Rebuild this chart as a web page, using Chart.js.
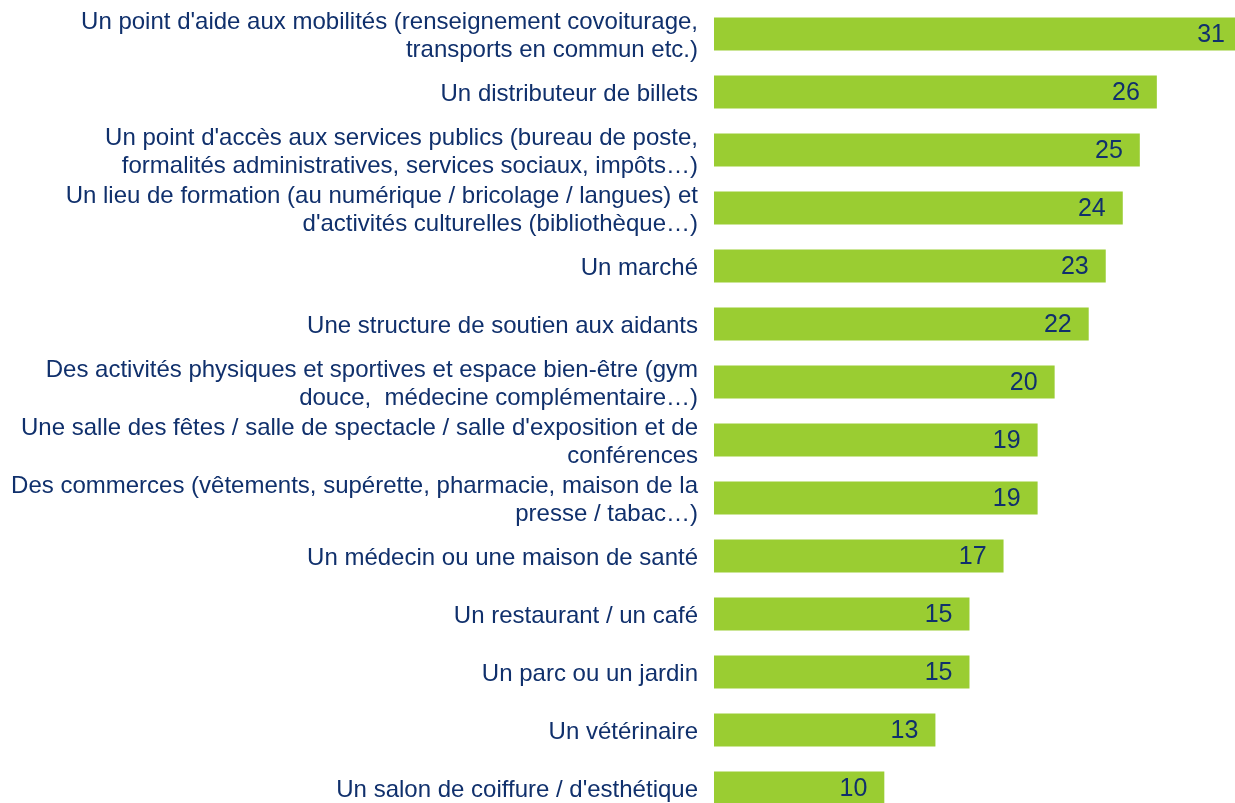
<!DOCTYPE html>
<html lang="fr">
<head>
<meta charset="utf-8">
<title>Services souhaités</title>
<script src="https://cdn.jsdelivr.net/npm/chart.js@4.4.1/dist/chart.umd.min.js"></script>
<style>
  html, body { margin: 0; padding: 0; background: #ffffff; overflow: hidden; }
  #wrap { position: absolute; left: 0; top: 0; width: 1245px; height: 817px; }
</style>
</head>
<body>
<div id="wrap"><canvas id="servicesChart"></canvas></div>
<script>
// Categories (multi-line labels are arrays of lines)
const categories = [
  ["Un point d'aide aux mobilités (renseignement covoiturage,", "transports en commun etc.)"],
  "Un distributeur de billets",
  ["Un point d'accès aux services publics (bureau de poste,", "formalités administratives, services sociaux, impôts…)"],
  ["Un lieu de formation (au numérique / bricolage / langues) et", "d'activités culturelles (bibliothèque…)"],
  "Un marché",
  "Une structure de soutien aux aidants",
  ["Des activités physiques et sportives et espace bien-être (gym", "douce,  médecine complémentaire…)"],
  ["Une salle des fêtes / salle de spectacle / salle d'exposition et de", "conférences"],
  ["Des commerces (vêtements, supérette, pharmacie, maison de la", "presse / tabac…)"],
  "Un médecin ou une maison de santé",
  "Un restaurant / un café",
  "Un parc ou un jardin",
  "Un vétérinaire",
  "Un salon de coiffure / d'esthétique"
];

// Share of respondents (%)
const values = [31, 26, 25, 24, 23, 22, 20, 19, 19, 17, 15, 15, 13, 10];

const BAR_GREEN = '#9ACD32';
const NAVY = '#10306C';

// Writes each value at the right end, inside its bar
const valueLabels = {
  id: 'valueLabels',
  afterDatasetsDraw(chart) {
    const ctx = chart.ctx;
    const meta = chart.getDatasetMeta(0);
    ctx.save();
    ctx.font = '25px "Liberation Sans", Arial, sans-serif';
    ctx.fillStyle = NAVY;
    ctx.textAlign = 'right';
    ctx.textBaseline = 'middle';
    meta.data.forEach((bar, i) => {
      ctx.fillText(String(values[i]), bar.x - 17, bar.y + 1);
    });
    ctx.restore();
  }
};

const ctx = document.getElementById('servicesChart').getContext('2d');
new Chart(ctx, {
  type: 'bar',
  data: {
    labels: categories,
    datasets: [{
      data: values,
      backgroundColor: BAR_GREEN,
      borderWidth: 0,
      barPercentage: 0.57,
      categoryPercentage: 1
    }]
  },
  options: {
    indexAxis: 'y',
    responsive: true,
    maintainAspectRatio: false,
    animation: false,
    layout: { padding: { top: 5, right: 3, bottom: 0, left: 0 } },
    plugins: {
      legend: { display: false },
      tooltip: { enabled: false }
    },
    scales: {
      x: {
        display: false,
        min: 0,
        max: 31
      },
      y: {
        // fixed label column, no extra room for half-height of end labels
        afterFit(scale) {
          scale.width = 714;
          scale.paddingTop = 0;
          scale.paddingBottom = 0;
        },
        grid: { display: false, drawTicks: false },
        border: { display: false },
        ticks: {
          autoSkip: false,
          padding: 16,
          labelOffset: 2,
          color: NAVY,
          font: { family: '"Liberation Sans", Arial, sans-serif', size: 24, lineHeight: 1.17 }
        }
      }
    }
  },
  plugins: [valueLabels]
});
</script>
</body>
</html>
